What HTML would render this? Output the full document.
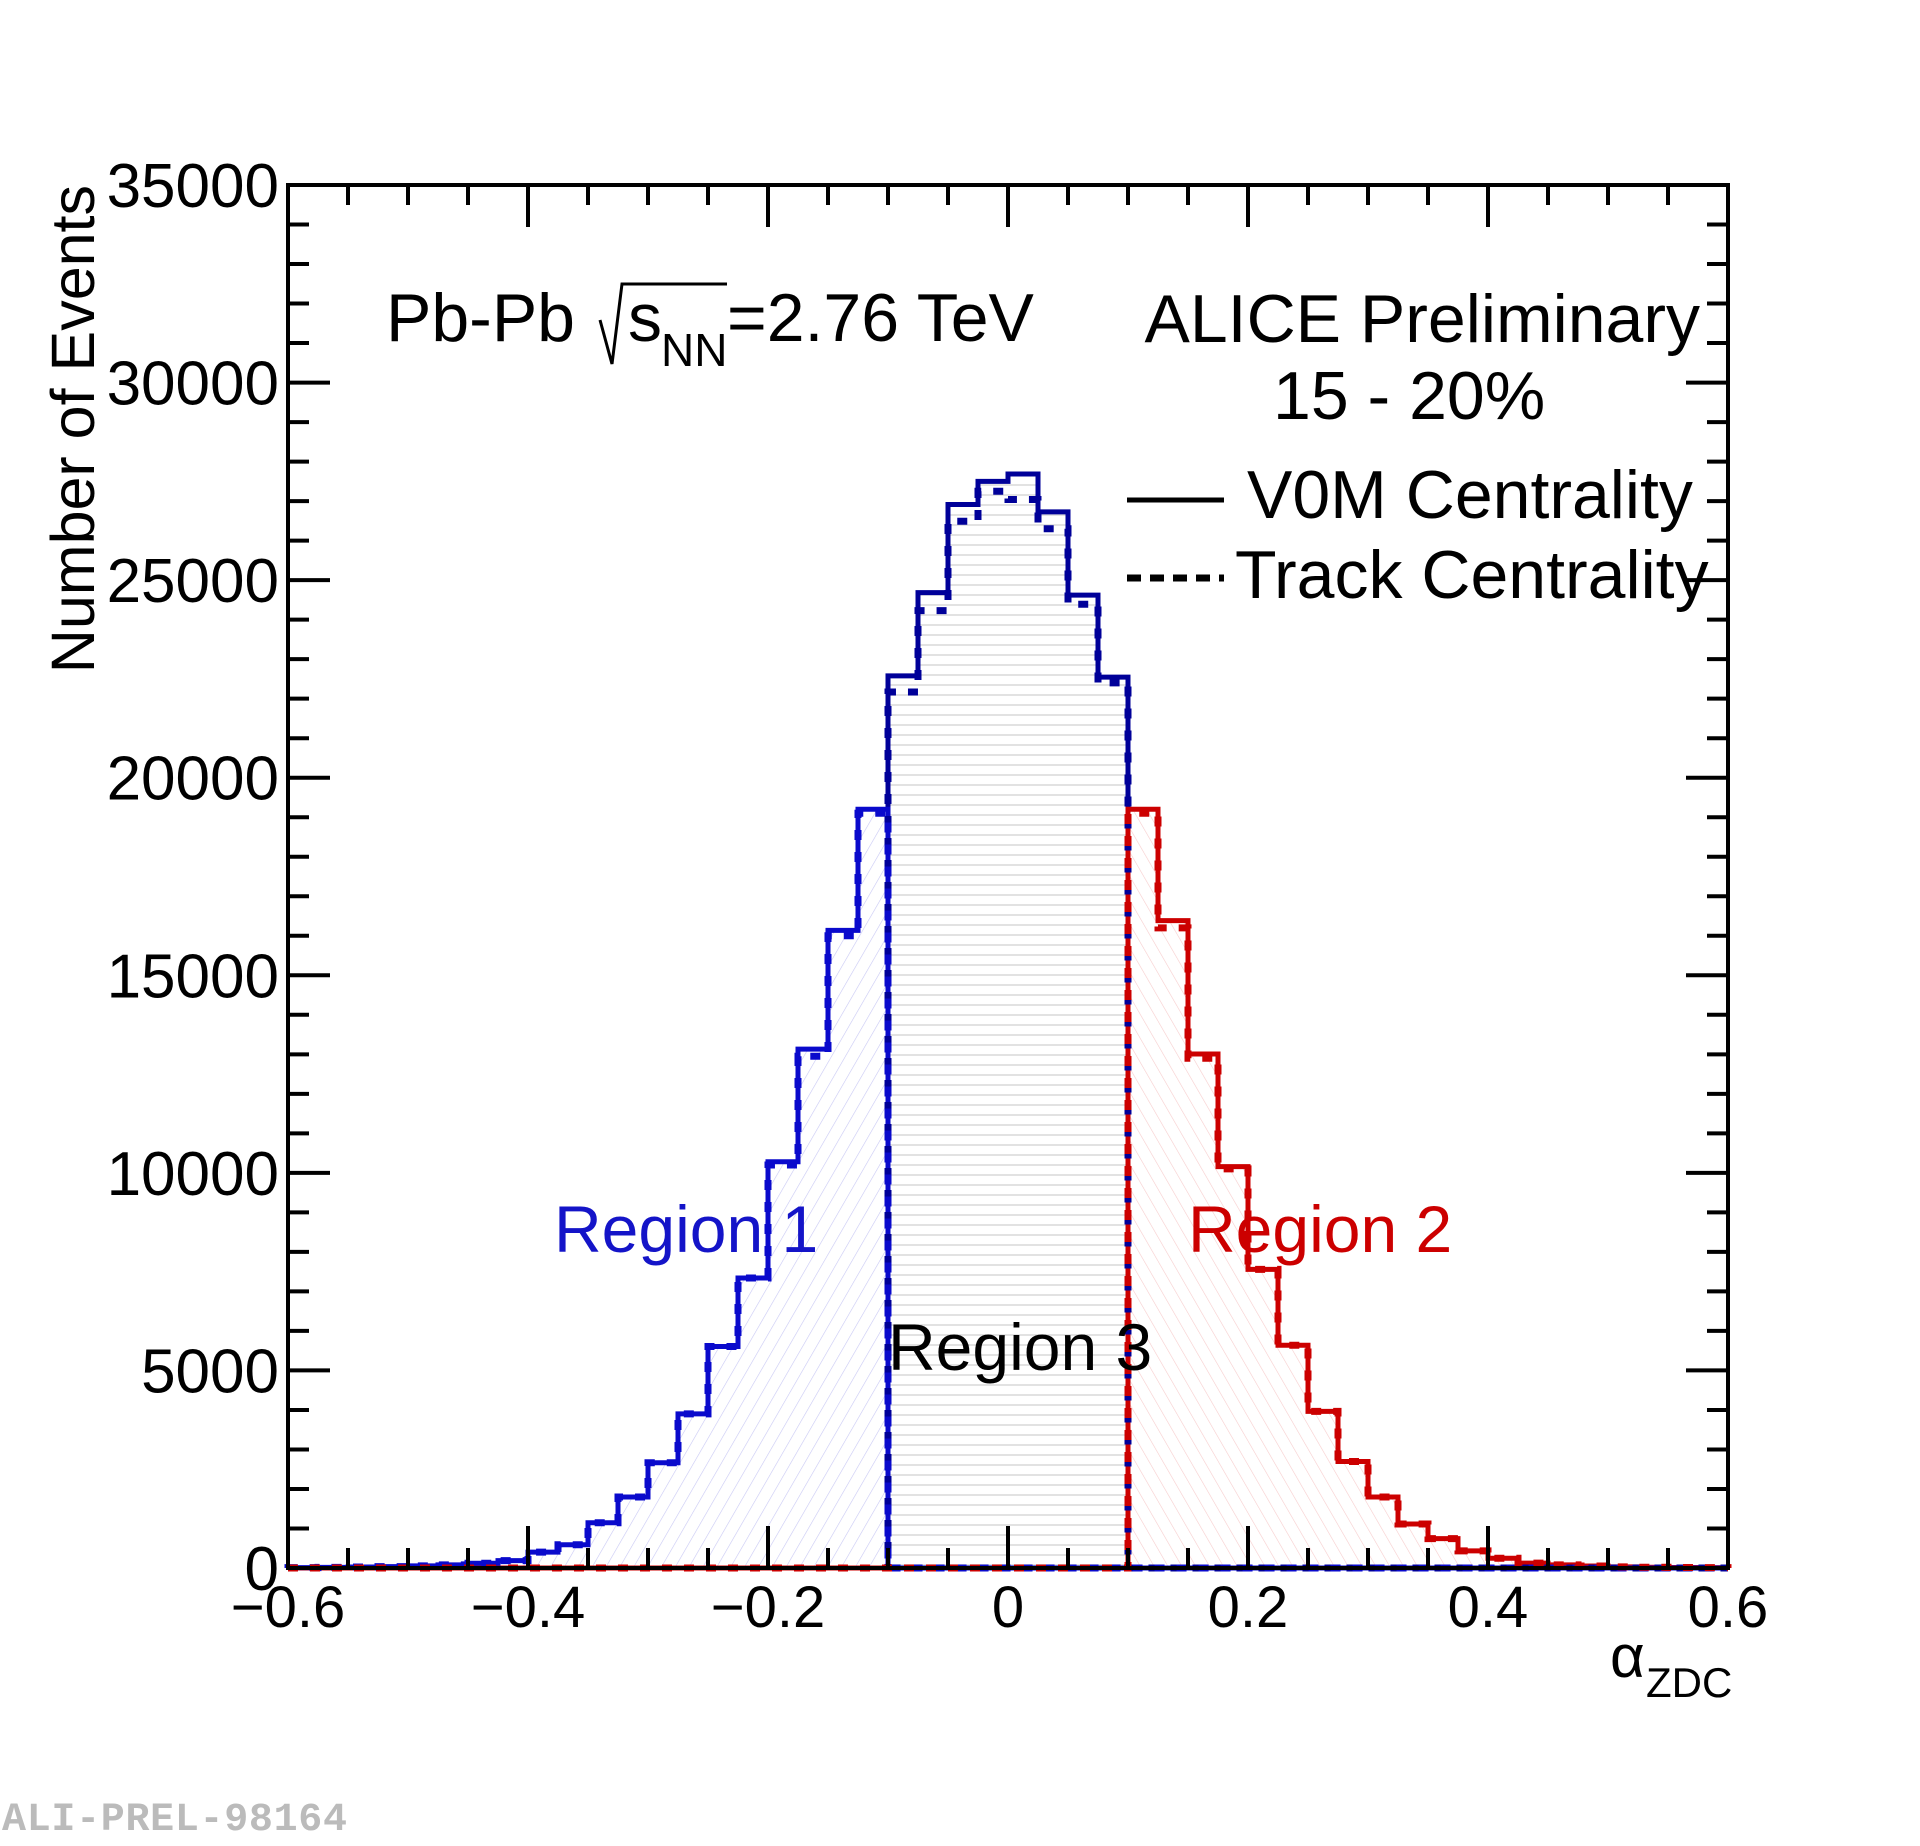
<!DOCTYPE html>
<html><head><meta charset="utf-8"><style>
html,body{margin:0;padding:0;background:#fff;}
svg{display:block;font-family:"Liberation Sans",Arial,sans-serif;}
</style></head><body>
<svg id="chart" width="1920" height="1846" viewBox="0 0 1920 1846" xmlns="http://www.w3.org/2000/svg">
<defs>
<pattern id="hatchBlue" patternUnits="userSpaceOnUse" width="12" height="12" patternTransform="rotate(30)"><line x1="0" y1="0" x2="0" y2="12" stroke="#c8c8f4" stroke-width="1.2"/></pattern>
<pattern id="hatchRed" patternUnits="userSpaceOnUse" width="12" height="12" patternTransform="rotate(-30)"><line x1="0" y1="0" x2="0" y2="12" stroke="#f6cccc" stroke-width="1.2"/></pattern>
<pattern id="hatchGrey" patternUnits="userSpaceOnUse" width="12" height="10"><line x1="0" y1="5" x2="12" y2="5" stroke="#d8d8d8" stroke-width="1.5"/></pattern>
</defs>
<g id="fills"></g>
<g id="hists"></g>
<g id="axes"></g>

<g>
<text x="386" y="341" font-size="68">Pb-Pb</text>
<path d="M600 320 L612 364 L622 284 L727 284" fill="none" stroke="#000" stroke-width="3"/>
<text x="628" y="341" font-size="68">s</text>
<text x="661" y="366" font-size="46">NN</text>
<text x="727" y="341" font-size="68">=2.76 TeV</text>
</g>
<text x="1700" y="342" font-size="68" text-anchor="end">ALICE Preliminary</text>
<text x="1273" y="419" font-size="68">15 - 20%</text>
<g>
<g>
<line x1="1127" y1="500" x2="1224" y2="500" stroke="#000" stroke-width="5"/>
<text x="1247" y="518" font-size="68">V0M Centrality</text></g>
<g>
<line x1="1127" y1="578" x2="1224" y2="578" stroke="#000" stroke-width="7" stroke-dasharray="14 9"/>
<text x="1235" y="598" font-size="68">Track Centrality</text></g>
</g>
<text x="554" y="1252" font-size="66" fill="#1414c8">Region 1</text>
<text x="1188" y="1252" font-size="66" fill="#cc0000">Region 2</text>
<text x="888" y="1370" font-size="66" fill="#000">Region 3</text>
<g>
<text x="1610" y="1677" font-size="60">α</text>
<text x="1646" y="1697" font-size="42">ZDC</text></g>
<text transform="translate(94,185) rotate(-90)" font-size="61" text-anchor="end">Number of Events</text>
<text x="2" y="1830" font-family="Liberation Mono,monospace" font-weight="bold" font-size="40" fill="#bbbbbb" textLength="345">ALI-PREL-98164</text>
</svg>
<script>
const binEdgesStart = -0.6;
const binWidth = 0.025;
const v0mCounts = [10,15,25,35,55,80,120,186,403,589,1146,1796,2663,3902,5606,7340,10282,13131,16135,19201,22577,24683,26913,27501,27687,26727,24621,22546,19201,16383,13007,10158,7556,5637,3964,2694,1796,1115,743,434,248,124,80,50,30,20,12,8];
const trackCounts = [10,15,25,35,55,80,120,186,403,589,1146,1796,2663,3902,5606,7340,10200,12950,16000,19100,22170,24230,26490,27250,27040,26300,24390,22400,19100,16200,12900,10100,7556,5637,3964,2694,1796,1115,743,434,248,124,80,50,30,20,12,8];
const regionBounds = [-0.1, 0.1];
const xTickLabels = ["\u22120.6","\u22120.4","\u22120.2","0","0.2","0.4","0.6"];
const xTickValues = [-0.6,-0.4,-0.2,0,0.2,0.4,0.6];
const yTickValues = [0,5000,10000,15000,20000,25000,30000,35000];

const NS="http://www.w3.org/2000/svg";
const L=288,R=1728,T=185,B=1568;
const X=v=>L+(v+0.6)/1.2*(R-L);
const Y=v=>B-v/35000*(B-T);
function mk(tag,attrs,parent){const e=document.createElementNS(NS,tag);for(const k in attrs)e.setAttribute(k,attrs[k]);parent.appendChild(e);return e;}

function regionOf(i){const c=binEdgesStart+(i+0.5)*binWidth;return c<regionBounds[0]?0:(c<regionBounds[1]?2:1);}
function histPath(vals,reg){let d="M"+X(binEdgesStart)+" "+Y(0);
  for(let i=0;i<vals.length;i++){const v=regionOf(i)===reg?vals[i]:0;const x0=X(binEdgesStart+i*binWidth),x1=X(binEdgesStart+(i+1)*binWidth);d+=" L"+x0+" "+Y(v)+" L"+x1+" "+Y(v);}
  d+=" L"+X(binEdgesStart+vals.length*binWidth)+" "+Y(0);return d;}

const fills=document.getElementById('fills'),hists=document.getElementById('hists'),axes=document.getElementById('axes');
const fillIds=["url(#hatchBlue)","url(#hatchRed)","url(#hatchGrey)"];
const regNames=["region-1","region-2","region-3"];
for(let r=0;r<3;r++){
  const f=mk('path',{d:histPath(v0mCounts,r)+" Z",fill:fillIds[r],stroke:"none"},fills);
  
  
}
const cols=["#0a0acc","#cc0000","#000099"];
const drawOrder=[2,1,0];
for(const r of drawOrder){
  const p=mk('path',{d:histPath(v0mCounts,r),fill:"none",stroke:cols[r],"stroke-width":5,"stroke-linejoin":"miter"},hists);
  
  
}
for(const r of [2,0,1]){
  const p=mk('path',{d:histPath(trackCounts,r),fill:"none",stroke:cols[r],"stroke-width":7,"stroke-dasharray":"10 12"},hists);
  
  
}
const fr=mk('rect',{x:L,y:T,width:R-L,height:B-T,fill:"none",stroke:"#000","stroke-width":4},axes);


let td="";
for(let k=0;k<=24;k++){const v=-0.6+k*0.05;const x=X(v);const len=(k%4===0)?42:20;td+=`M${x} ${B} V${B-len} M${x} ${T} V${T+len} `;}
for(let k=0;k<=35;k++){const y=Y(k*1000);const len=(k%5===0)?42:21;td+=`M${L} ${y} H${L+len} M${R} ${y} H${R-len} `;}
const tk=mk('path',{d:td,stroke:"#000","stroke-width":4,fill:"none"},axes);


xTickValues.forEach((v,i)=>{const t=mk('text',{x:X(v),y:1627,"font-size":58,"text-anchor":"middle"},axes);t.textContent=xTickLabels[i];
  
  });
yTickValues.forEach(v=>{const t=mk('text',{x:279,y:Y(v)+22,"font-size":62,"text-anchor":"end"},axes);t.textContent=String(v);
  
  });
</script>
</body></html>
